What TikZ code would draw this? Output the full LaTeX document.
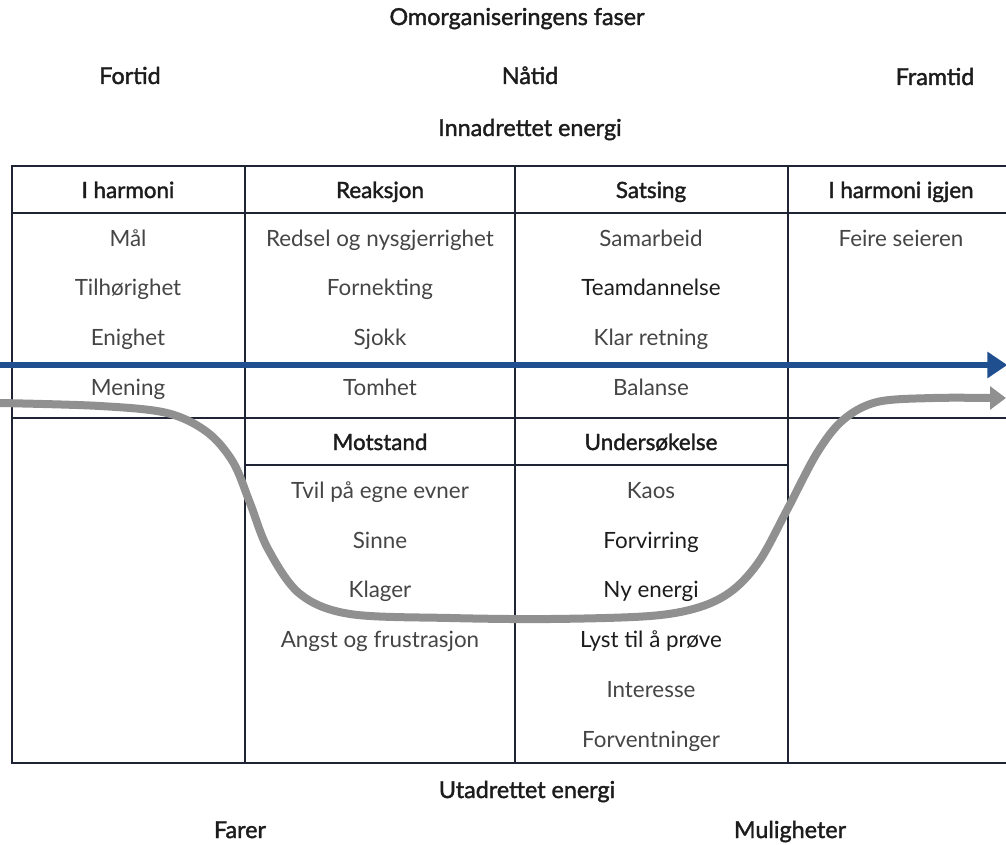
\documentclass[tikz,border=0pt]{standalone}
\usepackage{fontspec}
\setmainfont{Lato}
\newfontface\semibold[FakeBold=1.6]{Lato}
\usetikzlibrary{arrows.meta}
\definecolor{rulecol}{HTML}{1E2433}
\definecolor{flowcol}{HTML}{1F4F8F}
\definecolor{curvecol}{HTML}{909090}
\definecolor{txtcol}{HTML}{454545}
\definecolor{headcol}{HTML}{1C1C1C}
\begin{document}
\begin{tikzpicture}[x=0.75pt,y=-0.75pt,
  gridline/.style={draw=rulecol, line width=1.2pt},
  cell/.style={anchor=base, text=txtcol, inner sep=0pt,
    font=\fontsize{16.8}{20}\selectfont},
  strong/.style={cell, text=headcol},
  hcell/.style={cell, text=headcol, font=\fontsize{16.8}{20}\selectfont\semibold},
  caption/.style={hcell, font=\fontsize{17.5}{21}\selectfont\semibold},
  flow/.style={draw=flowcol, line width=4.5pt,
    -{Triangle[length=15pt,width=19pt]}, shorten >=-1pt},
  curve/.style={draw=curvecol, line width=6pt,
    -{Triangle[length=12pt,width=17pt]}}]
\useasboundingbox (0,0) rectangle (1006,845);

% titles above the table
\node[caption] (title) at (517,25) {Omorganiseringens faser};
\node[caption] (past) at (130,84) {Fortid};
\node[caption] (now) at (530,84) {Nåtid};
\node[caption] (future) at (935,85) {Framtid};
\node[caption] (inward) at (530,136) {Innadrettet energi};

% table grid
\draw[gridline] (1012,166) -- (12,166) -- (12,763) -- (1012,763);
\draw[gridline] (12,213) -- (1012,213);
\draw[gridline] (12,418) -- (1012,418);
\draw[gridline] (245,465) -- (788,465);
\draw[gridline] (245,166) -- (245,763);
\draw[gridline] (515,166) -- (515,763);
\draw[gridline] (788,166) -- (788,763);

% column headings
\node[hcell] (h1) at (128,198) {I harmoni};
\node[hcell] (h2) at (380,198) {Reaksjon};
\node[hcell] (h3) at (651,198) {Satsing};
\node[hcell] (h4) at (901,198) {I harmoni igjen};

% first column
\node[cell] (a1) at (128,246) {Mål};
\node[cell] (a2) at (128,295) {Tilhørighet};
\node[cell] (a3) at (128,345) {Enighet};
\node[cell] (a4) at (128,395) {Mening};

% second column
\node[cell] (b1) at (380,246) {Redsel og nysgjerrighet};
\node[cell] (b2) at (380,295) {Fornekting};
\node[cell] (b3) at (380,345) {Sjokk};
\node[cell] (b4) at (380,395) {Tomhet};
\node[hcell] (b5) at (380,450) {Motstand};
\node[cell] (b6) at (380,498) {Tvil på egne evner};
\node[cell] (b7) at (380,548) {Sinne};
\node[cell] (b8) at (380,597) {Klager};
\node[cell] (b9) at (380,647) {Angst og frustrasjon};

% third column
\node[cell] (c1) at (651,246) {Samarbeid};
\node[strong] (c2) at (651,295) {Teamdannelse};
\node[cell] (c3) at (651,345) {Klar retning};
\node[cell] (c4) at (651,395) {Balanse};
\node[hcell] (c5) at (651,450) {Undersøkelse};
\node[cell] (c6) at (651,498) {Kaos};
\node[strong] (c7) at (651,548) {Forvirring};
\node[strong] (c8) at (651,597) {Ny energi};
\node[strong] (c9) at (651,647) {Lyst til å prøve};
\node[cell] (c10) at (651,697) {Interesse};
\node[cell] (c11) at (651,747) {Forventninger};

% fourth column
\node[cell] (d1) at (901,246) {Feire seieren};

% captions below the table
\node[caption] (outward) at (527,798) {Utadrettet energi};
\node[caption] (danger) at (240,838) {Farer};
\node[caption] (chance) at (790,838) {Muligheter};

% straight energy line
\coordinate (flowstart) at (0,365);
\coordinate (flowend) at (1006,365);
\draw[flow] (flowstart) -- (flowend);

% the dip and recovery curve
\coordinate (curvestart) at (0,403);
\coordinate (curveend) at (1006,398);
\draw[curve] plot[smooth, tension=0.55] coordinates {
  (curvestart) (100,406) (167,413) (207,432) (233,462) (250,503)
  (268,549) (300,594) (350,614) (450,618) (550,619) (650,616)
  (700,607) (733,590) (760,560) (787,510) (817,453) (843,420)
  (877,402) (933,398) (992,398)} -- (curveend);
\end{tikzpicture}
\end{document}
